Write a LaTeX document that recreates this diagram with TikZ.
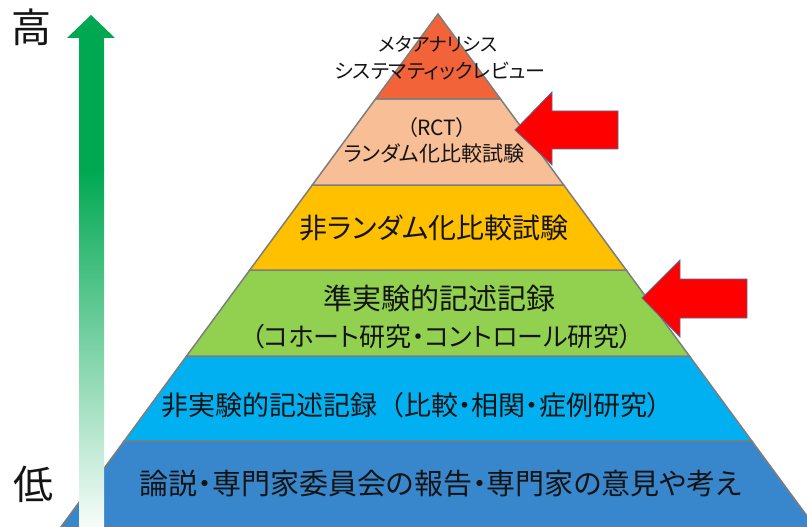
\documentclass[tikz,border=0pt]{standalone}
\usepackage{fontspec}
\newfontfamily\jp[RawFeature=+palt]{Noto Sans CJK JP}
\newfontfamily\jpm{Noto Sans CJK JP}
\definecolor{cA}{RGB}{243,99,58}
\definecolor{cB}{RGB}{248,190,150}
\definecolor{cC}{RGB}{255,192,0}
\definecolor{cD}{RGB}{146,208,80}
\definecolor{cE}{RGB}{0,176,240}
\definecolor{cF}{RGB}{56,135,204}
\definecolor{edge}{RGB}{125,125,125}
\definecolor{arrowred}{RGB}{255,0,0}
\definecolor{arrowline}{RGB}{80,110,150}
\definecolor{upgreen}{RGB}{0,168,82}
\definecolor{ink}{RGB}{20,20,20}
\tikzset{
  band/.style={draw=edge,line width=1.5pt,line join=miter},
  redarrow/.style={fill=arrowred,draw=arrowline,line width=0.8pt,line join=miter},
  lbl/.style={text=ink,inner sep=0pt,font=\jp},
}
\newcommand{\fs}[1]{\fontsize{#1}{#1}\selectfont}
\begin{document}
\begin{tikzpicture}[x=1pt,y=-1pt]
\useasboundingbox (0,0) rectangle (807,527);
\fill[white] (0,0) rectangle (807,527);
\begin{scope}
\clip (0,0) rectangle (807,527);
% pyramid bands
\filldraw[band,fill=cF] (124.2,441)--(751.8,441)--(815.1,527)--(60.9,527)--cycle;
\filldraw[band,fill=cE] (186.6,356)--(689.4,356)--(751.8,441)--(124.2,441)--cycle;
\filldraw[band,fill=cD] (249.8,270)--(626.2,270)--(689.4,356)--(186.6,356)--cycle;
\filldraw[band,fill=cC] (312.3,185)--(563.7,185)--(626.2,270)--(249.8,270)--cycle;
\filldraw[band,fill=cB] (375.5,99)--(500.5,99)--(563.7,185)--(312.3,185)--cycle;
\filldraw[band,fill=cA] (438,14)--(500.5,99)--(375.5,99)--cycle;
% green arrow
\fill[upgreen] (91,15)--(115,38)--(104,38)--(104,170)--(79,170)--(79,38)--(67,38)--cycle;
\shade[top color=upgreen,bottom color=upgreen!3] (79,169.5) rectangle (104,527);
\end{scope}
% red arrows
\draw[redarrow] (515,130)--(552,92)--(552,111)--(618,111)--(618,149)--(552,149)--(552,165)--cycle;
\draw[redarrow] (642,298)--(680,260)--(680,279)--(747,279)--(747,318)--(680,318)--(680,337)--cycle;
% labels
\node[lbl,font=\jpm\fs{40}] (hi) at (31,27) {高};
\node[lbl,font=\jpm\fs{40}] (lo) at (33,484) {低};
\node[lbl,font=\jp\fs{19}] (t1a) at (438,44) {メタアナリシス};
\node[lbl,font=\jp\fs{20}] (t1b) at (440,71) {システマティックレビュー};
\node[lbl,font=\jp\fs{21}] (t2a) at (437,128) {（RCT）};
\node[lbl,font=\jp\fs{21}] (t2b) at (434,153) {ランダム化比較試験};
\node[lbl,font=\jp\fs{28}] (t3) at (434,228) {非ランダム化比較試験};
\node[lbl,font=\jp\fs{29}] (t4a) at (439,298) {準実験的記述記録};
\node[lbl,font=\jp\fs{26}] (t4b) at (442,337) {（コホート研究・コントロール研究）};
\node[lbl,font=\jp\fs{27}] (t5) at (411,405) {非実験的記述記録{\jpm （}比較・相関・症例研究）};
\node[lbl,font=\jp\fs{29}] (t6) at (441,484) {論説・専門家委員会の報告・専門家の意見や考え};
\end{tikzpicture}
\end{document}
